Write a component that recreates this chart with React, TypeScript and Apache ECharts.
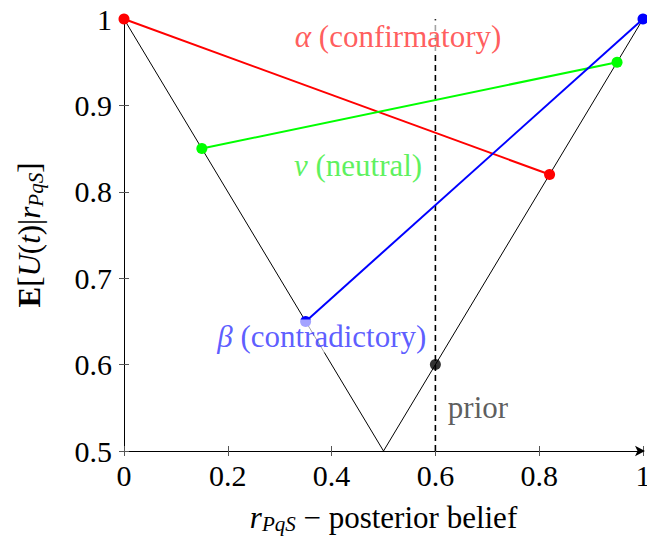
import React, { useEffect, useRef } from "react";
import * as echarts from "echarts";

const vCurve: [number, number][] = [[0, 1], [0.5, 0.5], [1, 1]];
const confirmatory: [number, number][] = [[0, 1], [0.82, 0.82]];
const neutral: [number, number][] = [[0.15, 0.85], [0.95, 0.95]];
const contradictory: [number, number][] = [[0.35, 0.65], [1, 1]];
const priorPoint: [number, number][] = [[0.6, 0.6]];
const priorLine: [number, number][] = [[0.6, 0.5], [0.6, 1]];

const annoSymbols = ["α", "ν", "β", ""];
const annoTexts = ["(confirmatory)", "(neutral)", "(contradictory)", "prior"];
const annoPos: [number, number][] = [[0.528, 0.98], [0.451, 0.831], [0.381, 0.633], [0.682, 0.55]];
const annoColors = ["#ff3333", "#33ee33", "#3333ff", "#333333"];

const FONT = "'Liberation Serif', 'Times New Roman', 'DejaVu Serif', serif";
const TXT = 31;
const SUB = 21;

export default function App() {
  const ref = useRef<HTMLDivElement>(null);
  useEffect(() => {
    document.body.style.margin = "0";
    const chart = echarts.init(ref.current!, undefined, { renderer: "svg" });
    const annoData = annoPos.map((p, i) => ({
      value: p,
      label: {
        formatter: annoSymbols[i] ? `{g|${annoSymbols[i]}}{t| ${annoTexts[i]}}` : `{t|${annoTexts[i]}}`,
        color: annoColors[i],
        rich: {
          g: { fontStyle: "italic", color: annoColors[i], fontSize: TXT, fontFamily: FONT },
          t: { color: annoColors[i], fontSize: TXT, fontFamily: FONT },
        },
      },
    }));
    const axisCommon = {
      axisLine: { lineStyle: { color: "#000", width: 1 } },
      splitLine: { show: false },
      axisLabel: { color: "#000", fontSize: 30, fontFamily: FONT },
    };
    chart.setOption({
      animation: false,
      textStyle: { fontFamily: FONT },
      grid: { left: 124, right: 4, top: 19, bottom: 90, outerBoundsMode: "none", containLabel: false },
      xAxis: [
        {
          type: "value", min: 0, max: 1, interval: 0.2,
          ...axisCommon,
          axisLine: { lineStyle: { color: "#000", width: 1 }, symbol: ["none", "arrow"], symbolSize: [8, 10], symbolOffset: [0, 2] },
          axisTick: { show: true, length: 5, lineStyle: { color: "#555" } },
          axisLabel: { ...axisCommon.axisLabel, margin: 9 },
          name: "{i|r}{s|PqS}{t| − posterior belief}",
          nameLocation: "middle",
          nameGap: 50,
          nameTextStyle: {
            rich: {
              i: { fontStyle: "italic", fontSize: TXT, fontFamily: FONT, color: "#000" },
              s: { fontStyle: "italic", fontSize: SUB, fontFamily: FONT, color: "#000", verticalAlign: "bottom", padding: [12, 0, 0, 0] },
              t: { fontSize: TXT, fontFamily: FONT, color: "#000" },
            },
          },
        },
        {
          type: "value", min: 0, max: 1, interval: 0.2,
          position: "bottom",
          axisLine: { show: false },
          axisTick: { show: true, inside: true, length: 5, lineStyle: { color: "#555" } },
          axisLabel: { show: false },
          splitLine: { show: false },
        },
      ],
      yAxis: [
        {
          type: "value", min: 0.5, max: 1, interval: 0.1,
          ...axisCommon,
          axisTick: { show: true, length: 5, lineStyle: { color: "#555" } },
          axisLabel: { ...axisCommon.axisLabel, margin: 12 },
          name: "{b|E}{t|[}{i|U}{t|(}{i|t}{t|)|}{i|r}{s|PqS}{t|]}",
          nameLocation: "middle",
          nameRotate: 90,
          nameGap: 78,
          nameTextStyle: {
            rich: {
              b: { fontWeight: "bold", fontSize: TXT, fontFamily: FONT, color: "#000" },
              i: { fontStyle: "italic", fontSize: TXT, fontFamily: FONT, color: "#000" },
              s: { fontStyle: "italic", fontSize: SUB, fontFamily: FONT, color: "#000", verticalAlign: "bottom", padding: [12, 0, 0, 0] },
              t: { fontSize: TXT, fontFamily: FONT, color: "#000" },
            },
          },
        },
        {
          type: "value", min: 0.5, max: 1, interval: 0.1,
          position: "left",
          axisLine: { show: false },
          axisTick: { show: true, inside: true, length: 5, lineStyle: { color: "#555" } },
          axisLabel: { show: false },
          splitLine: { show: false },
        },
      ],
      series: [
        {
          type: "line", data: vCurve, showSymbol: false, symbol: "none",
          lineStyle: { color: "#000", width: 1 }, z: 2,
        },
        {
          type: "line", data: priorLine, showSymbol: false, symbol: "none",
          lineStyle: { color: "#000", width: 1.6, type: [6, 4] }, z: 3,
        },
        {
          type: "line", data: confirmatory, symbol: "circle", symbolSize: 11, clip: false,
          itemStyle: { color: "#ff0000" }, lineStyle: { color: "#ff0000", width: 2 }, z: 4,
        },
        {
          type: "line", data: neutral, symbol: "circle", symbolSize: 11, clip: false,
          itemStyle: { color: "#00ff00" }, lineStyle: { color: "#00ff00", width: 2 }, z: 4,
        },
        {
          type: "line", data: contradictory, symbol: "circle", symbolSize: 11, clip: false,
          itemStyle: { color: "#0000ff" }, lineStyle: { color: "#0000ff", width: 2 }, z: 4,
        },
        {
          type: "scatter", data: priorPoint, symbol: "circle", symbolSize: 11, clip: false,
          itemStyle: { color: "#000" }, z: 5,
        },
        {
          type: "scatter", data: annoData, symbolSize: 0, z: 6, silent: true,
          label: {
            show: true, position: "inside",
            backgroundColor: "rgba(255,255,255,0.8)", padding: [1, 3],
          },
        },
      ],
    });
    return () => chart.dispose();
  }, []);
  return <div ref={ref} style={{ width: 647, height: 541 }} />;
}
